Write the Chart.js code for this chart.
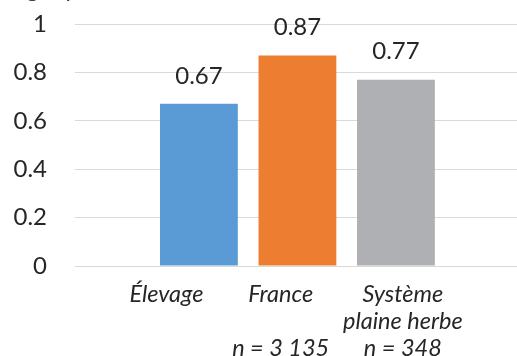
<!DOCTYPE html>
<html>
<head>
<meta charset="utf-8">
<script src="https://cdn.jsdelivr.net/npm/chart.js@4/dist/chart.umd.min.js"></script>
<style>
  html, body { margin: 0; padding: 0; background: #fff; }
  #wrap { position: relative; width: 517px; height: 356px; overflow: hidden; }
</style>
</head>
<body>
<div id="wrap"><canvas id="chart" width="517" height="356"></canvas></div>
<script>
// Unit shown above the value axis
const unitLabel = 'kg eq. CO2/ha/an';

// Categories (one entry per bar, split into lines) and their sample sizes
const categories = [['Élevage'], ['France'], ['Système', 'plaine herbe']];
const sampleSizes = ['', 'n = 3 135', 'n = 348'];

// Bar values
const values = [0.67, 0.87, 0.77];
const barColors = ['#5B9BD5', '#ED7D31', '#AFB0B3'];

// Value-axis ticks
const yTickValues = [0, 0.2, 0.4, 0.6, 0.8, 1];

// Bars sit at integer positions along a linear category axis
const positions = categories.map((_, i) => i);
// Horizontal nudge of each category caption, in category widths
const captionShift = [-0.33, -0.17, 0.07];

function tickLines(i) {
  const lines = categories[i].slice();
  if (sampleSizes[i]) {
    while (lines.length < 2) lines.push('');
    lines.push(sampleSizes[i]);
  }
  return lines;
}

const textColor = '#262626';
const gridColor = '#D9D9D9';

// Unit text, running off the top edge of the canvas
const unitText = {
  id: 'unitText',
  afterDraw(chart) {
    const { ctx } = chart;
    ctx.save();
    ctx.font = '24px Lato';
    ctx.fillStyle = '#404040';
    ctx.textAlign = 'left';
    ctx.textBaseline = 'alphabetic';
    ctx.fillText(unitLabel, 14, -3);
    ctx.restore();
  }
};

// Value labels printed above each bar
const valueLabels = {
  id: 'valueLabels',
  afterDatasetsDraw(chart) {
    const { ctx } = chart;
    const meta = chart.getDatasetMeta(0);
    ctx.save();
    ctx.font = '24px Lato';
    ctx.fillStyle = textColor;
    ctx.textAlign = 'center';
    ctx.textBaseline = 'middle';
    meta.data.forEach((bar, i) => {
      ctx.fillText(String(values[i]), bar.x, bar.y - 28);
    });
    ctx.restore();
  }
};

new Chart(document.getElementById('chart'), {
  type: 'bar',
  data: {
    datasets: [{
      data: positions.map((x, i) => ({ x, y: values[i] })),
      backgroundColor: barColors,
      borderWidth: 0,
      categoryPercentage: 1,
      barPercentage: 0.79
    }]
  },
  options: {
    responsive: false,
    animation: false,
    devicePixelRatio: 1,
    layout: { padding: { left: 14, right: 0, top: 24, bottom: 0 } },
    plugins: {
      legend: { display: false },
      tooltip: { enabled: false },
      title: { display: false }
    },
    scales: {
      x: {
        type: 'linear',
        min: -1.258,
        max: 3.229,
        offset: false,
        grid: { display: false, drawTicks: false },
        border: { display: true, color: gridColor, width: 1 },
        afterBuildTicks: (scale) => {
          scale.ticks = positions.map((v, i) => ({ value: v + captionShift[i] }));
        },
        afterFit: (scale) => { scale.height = 90; },
        ticks: {
          autoSkip: false,
          maxRotation: 0,
          minRotation: 0,
          padding: 15,
          color: textColor,
          font: { family: 'Lato', size: 23.5, style: 'italic', lineHeight: 1.15 },
          callback: (value, index) => tickLines(index)
        }
      },
      y: {
        min: 0,
        max: 1,
        afterBuildTicks: (scale) => { scale.ticks = yTickValues.map(v => ({ value: v })); },
        afterFit: (scale) => {
          scale.width = 61;
          scale.paddingTop = 14;
          scale.paddingBottom = 14;
        },
        grid: { color: gridColor, lineWidth: 1, drawTicks: false },
        border: { display: false },
        ticks: {
          padding: 28,
          color: textColor,
          font: { family: 'Lato', size: 24 },
          callback: (value) => String(value)
        }
      }
    }
  },
  plugins: [valueLabels, unitText]
});
</script>
</body>
</html>
